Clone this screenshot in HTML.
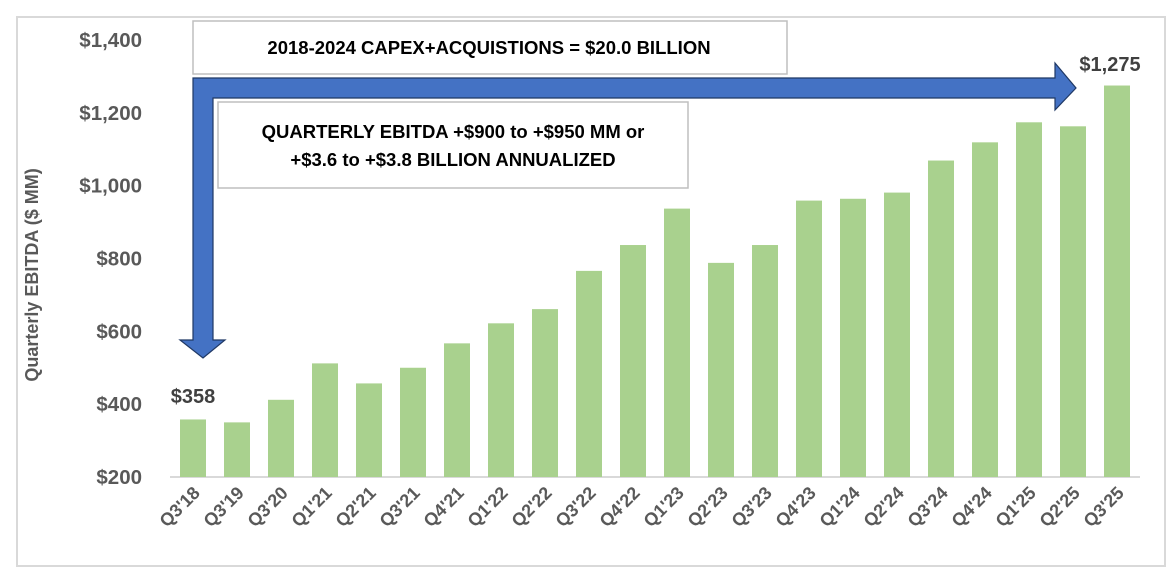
<!DOCTYPE html>
<html><head><meta charset="utf-8"><style>
body{margin:0;background:#fff;}
svg{display:block;font-family:"Liberation Sans",Calibri,sans-serif;}
</style></head><body>
<svg width="1172" height="578">
<rect x="17" y="17" width="1148" height="549" fill="#fff" stroke="#d9d9d9" stroke-width="2"/>
<text transform="translate(38,275) rotate(-90)" text-anchor="middle" font-size="18" font-weight="bold" fill="#595959">Quarterly  EBITDA ($ MM)</text>
<g id="yticks"></g>
<line x1="170" y1="477" x2="1140" y2="477" stroke="#d9d9d9" stroke-width="2"/>
<g id="bars"></g>
<g id="xlabels"></g>
<rect x="193" y="21" width="594" height="53" fill="#fff" stroke="#bfbfbf" stroke-width="1.5"/>
<text x="489" y="54" text-anchor="middle" font-size="18.5" font-weight="bold" fill="#000">2018-2024 CAPEX+ACQUISTIONS = $20.0 BILLION</text>
<path d="M193,78 L1055,78 L1055,63 L1076,88 L1055,110 L1055,98 L213,98 L213,340 L225,340 L203,358 L180,340 L193,340 Z" fill="#4472c4" stroke="#1f3864" stroke-width="1.2"/>
<rect x="218" y="102" width="470" height="86" fill="#fff" stroke="#bfbfbf" stroke-width="1.5"/>
<text x="453" y="138" text-anchor="middle" font-size="18.5" font-weight="bold" fill="#000">QUARTERLY EBITDA +$900 to +$950 MM or</text>
<text x="453" y="166" text-anchor="middle" font-size="18.5" font-weight="bold" fill="#000">+$3.6 to +$3.8 BILLION ANNUALIZED</text>
<text x="193" y="403" text-anchor="middle" font-size="20" font-weight="bold" fill="#404040">$358</text>
<text x="1110" y="71" text-anchor="middle" font-size="20" font-weight="bold" fill="#404040">$1,275</text>
</svg>
<script>
const categories=["Q3'18","Q3'19","Q3'20","Q1'21","Q2'21","Q3'21","Q4'21","Q1'22","Q2'22","Q3'22","Q4'22","Q1'23","Q2'23","Q3'23","Q4'23","Q1'24","Q2'24","Q3'24","Q4'24","Q1'25","Q2'25","Q3'25"];
const values=[358,350,412,512,457,500,567,622,661,766,837,937,788,837,959,964,981,1069,1119,1174,1163,1275];
const yTicks=[200,400,600,800,1000,1200,1400];
const yTickLabels=["$200","$400","$600","$800","$1,000","$1,200","$1,400"];
const NS="http://www.w3.org/2000/svg";
const y0=477,pxPer=437/1200;
function yScale(v){return y0-(v-200)*pxPer;}
function xScale(i){return 193+i*44;}
const yt=document.getElementById('yticks');
yTicks.forEach((t,i)=>{
 const el=document.createElementNS(NS,'text');
 el.setAttribute('x',142);el.setAttribute('y',yScale(t)+7);
 el.setAttribute('text-anchor','end');el.setAttribute('font-size','20.5');
 el.setAttribute('font-weight','bold');el.setAttribute('fill','#595959');
 el.textContent=yTickLabels[i];
 
 
 yt.appendChild(el);
});
const bg=document.getElementById('bars'),xl=document.getElementById('xlabels');
values.forEach((v,i)=>{
 const r=document.createElementNS(NS,'rect');
 const cx=xScale(i);
 r.setAttribute('x',cx-13);r.setAttribute('width',26);
 r.setAttribute('y',yScale(v));r.setAttribute('height',y0-yScale(v));
 r.setAttribute('fill','#a9d18e');
 
 
 bg.appendChild(r);
 const t=document.createElementNS(NS,'text');
 t.setAttribute('transform','translate('+(cx+8)+',494) rotate(-45)');
 t.setAttribute('text-anchor','end');t.setAttribute('font-size','18');
 t.setAttribute('font-weight','bold');t.setAttribute('fill','#595959');
 t.textContent=categories[i];
 
 
 xl.appendChild(t);
});
</script>
</body></html>
